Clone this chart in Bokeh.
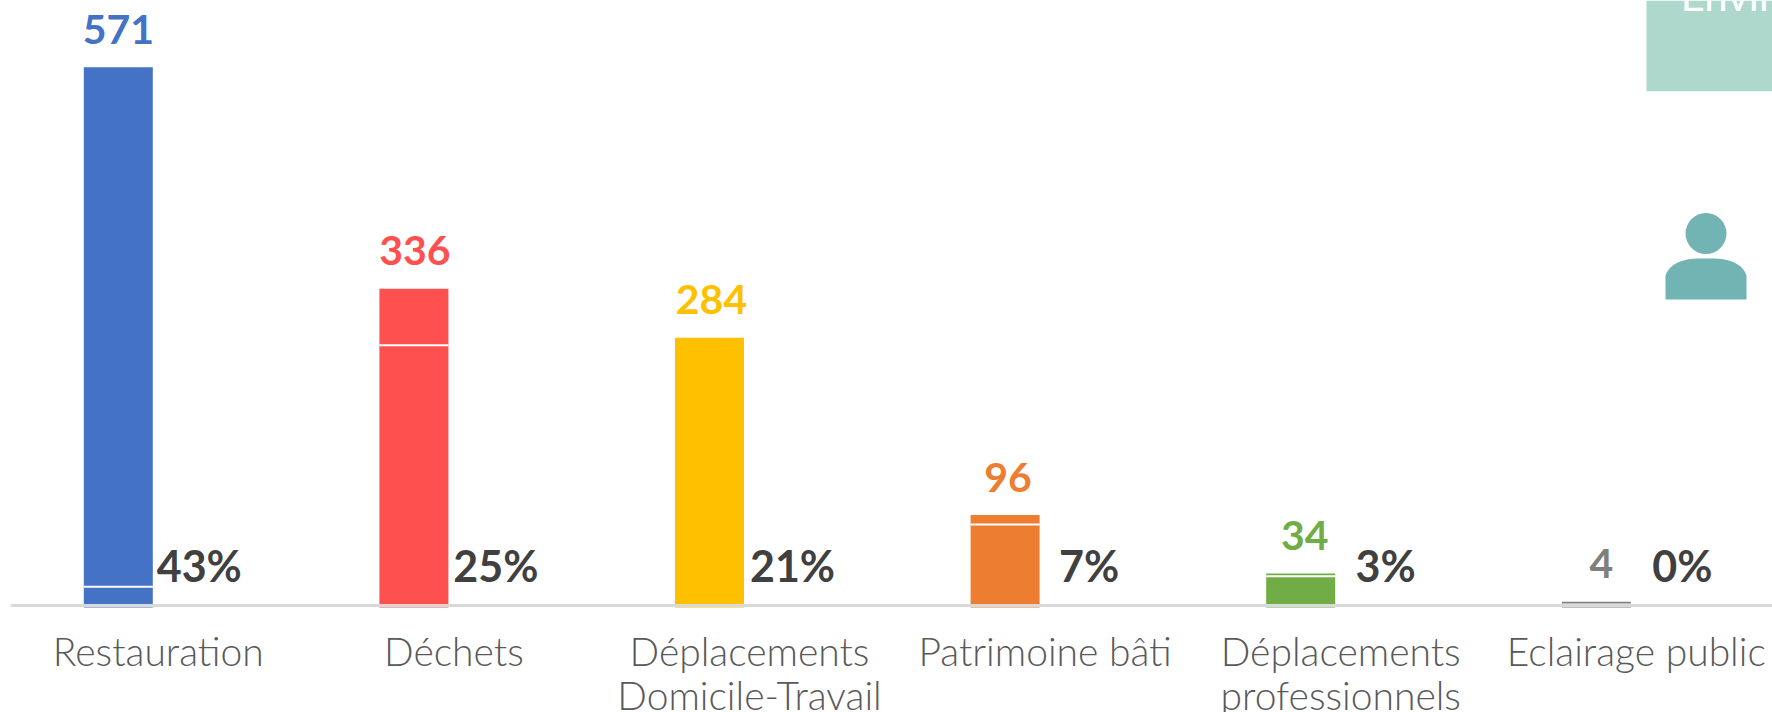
import numpy as np
from bokeh.embed import file_html
from bokeh.resources import INLINE
from bokeh.plotting import figure
from bokeh.models import Range1d, LinearAxis, FixedTicker
from bokeh.core.properties import value

categories = ["Restauration", "Déchets", "Déplacements\nDomicile-Travail", "Patrimoine bâti",
              "Déplacements\nprofessionnels", "Eclairage public"]
lower = [20, 276, 284, 86, 31, 1]
upper = [551, 60, 0, 10, 3, 3]
percent = ["43%", "25%", "21%", "7%", "3%", "0%"]
colors = ["#4472c4", "#ff5050", "#ffc000", "#ed7d31", "#70ad47", "#7f7f7f"]

W, H = 1772, 712
LEFT, ZERO_PX, PX_PER_UNIT, SPACING, TEXT_SPACING = 10, 605, 0.9425, 295.6, 296.6
BELOW_PX = 2
LABEL_FONT = "Lato Light"
NUM_FONT = "Lato"

idx = np.arange(len(categories))
text_idx = idx * TEXT_SPACING / SPACING
low = np.array(lower)
up = np.array(upper)
total = low + up
has_up = up > 0

p = figure(width=W, height=H, output_backend="svg", toolbar_location=None,
           x_range=Range1d(-0.5, -0.5 + (W - LEFT) / SPACING),
           y_range=Range1d((ZERO_PX - H) / PX_PER_UNIT, ZERO_PX / PX_PER_UNIT),
           x_axis_type=None, y_axis_type=None,
           min_border_left=LEFT, min_border_right=0, min_border_top=0, min_border_bottom=0,
           outline_line_color=None, background_fill_color="white", border_fill_color="white")
p.grid.visible = False
p.extra_x_ranges["px"] = Range1d(LEFT, W)
p.extra_y_ranges["px"] = Range1d(H, 0)

bar_x = idx - 40 / SPACING
bar_w = 69 / SPACING
below = -BELOW_PX / PX_PER_UNIT
p.vbar(x=bar_x, width=bar_w, bottom=below, top=low, color=colors, line_color=None)
p.vbar(x=bar_x[has_up], width=bar_w, bottom=low[has_up], top=total[has_up],
       color=[c for c, h in zip(colors, has_up) if h], line_color=None)
p.segment(x0=bar_x[has_up] - bar_w / 2, x1=bar_x[has_up] + bar_w / 2, y0=low[has_up], y1=low[has_up],
          line_color="white", line_width=2)

p.text(x=text_idx - 40 / SPACING, y=total, text=[str(v) for v in total], text_color=colors,
       text_font=value(NUM_FONT), text_font_style="bold", text_font_size="41px",
       text_align="center", text_baseline="alphabetic", y_offset=-38)
p.text(x=text_idx + 41 / SPACING, y=[0] * len(idx), text=percent, text_color="#404040",
       text_font=value(NUM_FONT), text_font_style="bold", text_font_size="43px",
       text_align="center", text_baseline="alphabetic", y_offset=-40)

axis = LinearAxis(ticker=FixedTicker(ticks=list(idx)),
                  major_label_overrides={int(i): c for i, c in zip(idx, categories)},
                  fixed_location=0, major_tick_line_color=None, minor_tick_line_color=None,
                  axis_line_color="#d9d9d9", axis_line_width=3,
                  major_label_text_color="#595959", major_label_text_font=LABEL_FONT,
                  major_label_text_font_size="39px", major_label_text_line_height=0.97,
                  major_label_standoff=16, major_label_orientation="horizontal")
p.add_layout(axis, "below")

# Decoration, placed in page pixels
p.quad(left=[1646], right=[W], top=[0], bottom=[90.7], color="#aed8cc", line_color=None,
       x_range_name="px", y_range_name="px")
p.text(x=[1680], y=[-6], text=["Environnement"], text_color="white", text_font=value(NUM_FONT),
       text_font_size="42px", text_baseline="alphabetic", x_range_name="px", y_range_name="px")
p.scatter(x=[1705.5], y=[233], size=41, marker="circle", color="#72b3b3", line_color=None,
          x_range_name="px", y_range_name="px")
t = np.linspace(-1, 1, 41)
dome_x = 1705.5 + 40.5 * np.sign(t) * np.abs(t) ** 0.8
dome_y = 275 - 17 * (1 - np.abs(t) ** 2.5) ** 0.7
p.patch(x=np.r_[1665, dome_x, 1746], y=np.r_[299, dome_y, 299], color="#72b3b3", line_color=None,
        x_range_name="px", y_range_name="px")

open("out.html", "w").write(file_html(p, INLINE))
